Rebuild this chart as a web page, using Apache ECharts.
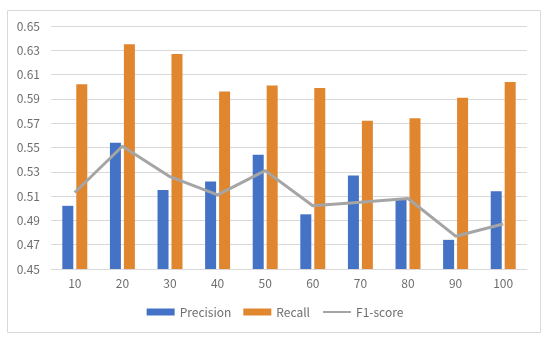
<!DOCTYPE html>
<html><head><meta charset="utf-8">
<script src="https://cdn.jsdelivr.net/npm/echarts@6/dist/echarts.min.js"></script>
<style>html,body{margin:0;padding:0;background:#fff}#c{width:550px;height:340px}</style>
</head><body><div id="c"></div>
<script>
const categories = ['10','20','30','40','50','60','70','80','90','100'];
const precision = [0.502,0.554,0.515,0.522,0.544,0.495,0.527,0.508,0.474,0.514];
const recall = [0.602,0.635,0.627,0.596,0.601,0.599,0.572,0.574,0.591,0.604];
const f1 = [0.513,0.551,0.526,0.511,0.531,0.502,0.505,0.508,0.477,0.487];
const yTicks = {min:0.45, max:0.65, step:0.02};

const chart = echarts.init(document.getElementById('c'), null, {renderer:'canvas'});
const font = '"Noto Sans CJK SC", "Liberation Sans", sans-serif';
const labelColor = '#6E6E6E';
chart.setOption({
  animation:false,
  textStyle:{fontFamily:font},
  graphic:[{type:'rect',shape:{x:7.5,y:10.5,width:533,height:322},style:{fill:null,stroke:'#D9D9D9',lineWidth:1},silent:true}],
  grid:{left:51,right:23,top:26,bottom:71},
  legend:{
    bottom:17, left:'center', itemWidth:28, itemHeight:7, itemGap:12,
    textStyle:{color:labelColor,fontSize:12,fontFamily:font},
    data:[{name:'Precision',icon:'rect'},{name:'Recall',icon:'rect'},{name:'F1-score',itemStyle:{opacity:0}}]
  },
  xAxis:{
    type:'category', data:categories,
    axisLine:{lineStyle:{color:'#D9D9D9'}}, axisTick:{show:false},
    axisLabel:{color:labelColor,fontSize:12,margin:8,fontFamily:font}
  },
  yAxis:{
    type:'value', min:yTicks.min, max:yTicks.max, interval:yTicks.step,
    axisLine:{show:false}, axisTick:{show:false},
    splitLine:{lineStyle:{color:'#D9D9D9',width:1}},
    axisLabel:{color:labelColor,fontSize:12,margin:11,fontFamily:font,formatter:v=>v.toFixed(2)}
  },
  series:[
    {name:'Precision',type:'bar',data:precision,barWidth:11,barGap:'27%',itemStyle:{color:'#4472C4'}},
    {name:'Recall',type:'bar',data:recall,barWidth:11,itemStyle:{color:'#E0862E'}},
    {name:'F1-score',type:'line',data:f1,symbol:'none',lineStyle:{color:'#A5A5A5',width:3},itemStyle:{color:'#A5A5A5'}}
  ]
});
</script></body></html>
